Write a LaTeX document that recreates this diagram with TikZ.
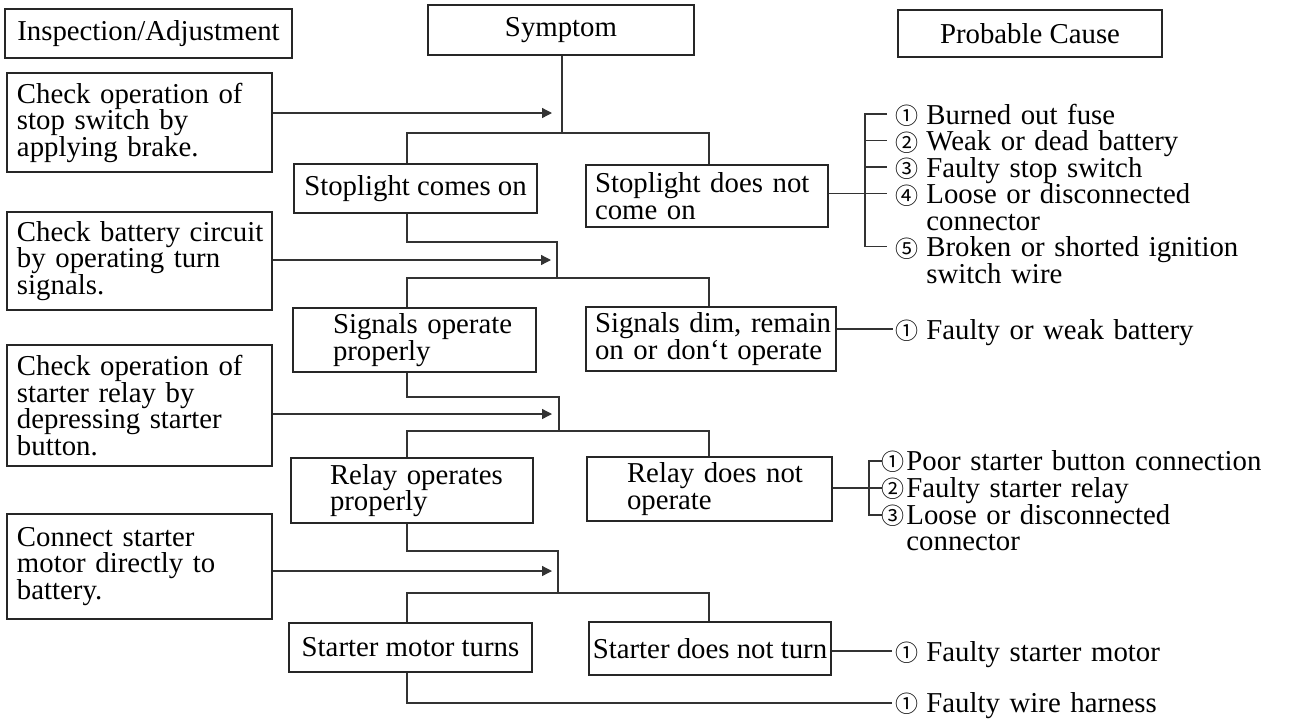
\documentclass[tikz,border=0pt]{standalone}
\usepackage{fontspec}
\setmainfont{Liberation Serif}
\newfontfamily\cnfont{Noto Sans CJK JP}
\usetikzlibrary{arrows.meta}
\newcommand{\mypad}[1]{\hspace*{#1}}
\newcommand{\cn}[2][15.5pt]{\makebox[#1][l]{\raisebox{-0.4pt}{\fontsize{11.5pt}{11.5pt}\cnfont #2}}}
\begin{document}
\begin{tikzpicture}[x=0.5pt,y=-0.5pt,font=\fontsize{14.4pt}{13.25pt}\selectfont]
\tikzset{
  bx/.style={draw=black!85, line width=0.65pt, inner xsep=0pt, inner ysep=0pt, align=left},
  cbx/.style={draw=black!85, line width=0.65pt, inner xsep=0pt, inner ysep=0pt, align=center},
  ln/.style={draw=black!80, line width=0.65pt},
  arr/.style={ln, -{Triangle[length=5pt,width=5pt]}},
  cause/.style={anchor=base west, inner sep=0pt, text width=205pt, align=left},
}
\useasboundingbox (0,0) rectangle (1294,718);

% headers
\node[cbx, minimum width=143.5pt, minimum height=24.5pt] (hIA) at (148.5,33.5) {Inspection/Adjustment};
\node[cbx, minimum width=133pt, minimum height=25pt] (hS) at (561,30) {Symptom};
\node[cbx, minimum width=132pt, minimum height=23.5pt] (hPC) at (1030,33.5) {Probable Cause};

% inspection boxes
\node[bx, text width=132.5pt, minimum height=49.5pt] (ia1) at (139.5,122.5)
  {\mypad{5pt}Check operation of\\\mypad{5pt}stop switch by\\\mypad{5pt}applying brake.};
\node[bx, text width=132.5pt, minimum height=49pt] (ia2) at (139.5,261)
  {\mypad{5pt}Check battery circuit\\\mypad{5pt}by operating turn\\\mypad{5pt}signals.};
\node[bx, text width=132.5pt, minimum height=60.5pt] (ia3) at (139.5,405.5)
  {\mypad{5pt}Check operation of\\\mypad{5pt}starter relay by\\\mypad{5pt}depressing starter\\\mypad{5pt}button.};
\node[bx, text width=132.5pt, minimum height=52.5pt] (ia4) at (139.5,566.5)
  {\mypad{5pt}Connect starter\\\mypad{5pt}motor directly to\\\mypad{5pt}battery.};

% symptom boxes
\node[cbx, minimum width=121.5pt, minimum height=24.5pt] (sc1) at (415.5,188.5) {Stoplight comes on};
\node[bx, text width=121pt, minimum height=31pt] (sd1) at (707,196)
  {\mypad{4.5pt}Stoplight does not\\\mypad{4.5pt}come on};
\node[bx, text width=121.5pt, minimum height=32pt] (sc2) at (414.5,340)
  {\mypad{20pt}Signals operate\\\mypad{20pt}properly};
\node[bx, text width=125pt, minimum height=32pt] (sd2) at (711,339)
  {\mypad{4.5pt}Signals dim, remain\\\mypad{4.5pt}on or don‘t operate};
\node[bx, text width=121pt, minimum height=32.5pt] (sc3) at (412,490.5)
  {\mypad{19.5pt}Relay operates\\\mypad{19.5pt}properly};
\node[bx, text width=122.5pt, minimum height=32pt] (sd3) at (709.5,489)
  {\mypad{20pt}Relay does not\\\mypad{20pt}operate};
\node[cbx, minimum width=121.5pt, minimum height=24.5pt] (sc4) at (410.5,647.5) {Starter motor turns};
\node[cbx, minimum width=121pt, minimum height=26.5pt] (sd4) at (710,648.5) {Starter does not turn};

% junction coordinates
\coordinate (j1) at (562,133);  \coordinate (b1) at (407,133);  \coordinate (b1r) at (709,133);
\coordinate (u2) at (407,242);  \coordinate (j2) at (557,242);
\coordinate (b2) at (407,278);  \coordinate (b2r) at (709,278);
\coordinate (u3) at (407,397);  \coordinate (j3) at (559,397);
\coordinate (b3) at (407,431);  \coordinate (b3r) at (709,431);
\coordinate (u4) at (407,551);  \coordinate (j4) at (558,551);
\coordinate (b4) at (407,593);  \coordinate (b4r) at (709,593);
\coordinate (u5) at (407,703);  \coordinate (e5) at (892,703);

% arrow tips
\coordinate (a1) at (552,113);
\coordinate (a2) at (551,260);
\coordinate (a3) at (552,414);
\coordinate (a4) at (552,571);

% tree
\draw[ln] (hS.south -| j1) -- (j1);
\draw[ln] (sc1.north -| b1) -- (b1) -- (b1r) -- (sd1.north -| b1r);
\draw[ln] (sc1.south -| u2) -- (u2) -- (j2) -- (j2 |- b2);
\draw[ln] (sc2.north -| b2) -- (b2) -- (b2r) -- (sd2.north -| b2r);
\draw[ln] (sc2.south -| u3) -- (u3) -- (j3) -- (j3 |- b3);
\draw[ln] (sc3.north -| b3) -- (b3) -- (b3r) -- (sd3.north -| b3r);
\draw[ln] (sc3.south -| u4) -- (u4) -- (j4) -- (j4 |- b4);
\draw[ln] (sc4.north -| b4) -- (b4) -- (b4r) -- (sd4.north -| b4r);
\draw[ln] (sc4.south -| u5) -- (u5) -- (e5);

% arrows
\draw[arr] (ia1.east |- a1) -- (a1);
\draw[arr] (ia2.east |- a2) -- (a2);
\draw[arr] (ia3.east |- a3) -- (a3);
\draw[arr] (ia4.east |- a4) -- (a4);

% causes group 1
\coordinate (g1) at (865,193.5);
\coordinate (k11) at (887,114);
\coordinate (k12) at (887,140.5);
\coordinate (k13) at (887,167);
\coordinate (k14) at (887,193.5);
\coordinate (k15) at (887,246.5);
\draw[ln] (k11) -- (k11 -| g1) -- (k15 -| g1) -- (k15);
\draw[ln] (k12 -| g1) -- (k12);
\draw[ln] (k13 -| g1) -- (k13);
\draw[ln] (sd1.east |- k14) -- (k14);
\node[cause] (c11) at (895,124) {\cn{①}Burned out fuse};
\node[cause] (c12) at (895,150.5) {\cn{②}Weak or dead battery};
\node[cause] (c13) at (895,177) {\cn{③}Faulty stop switch};
\node[cause] (c14) at (895,203.5) {\cn{④}Loose or disconnected\\\mypad{15.5pt}connector};
\node[cause] (c15) at (895,256.5) {\cn{⑤}Broken or shorted ignition\\\mypad{15.5pt}switch wire};

% group 2
\coordinate (k21) at (893,329);
\draw[ln] (sd2.east |- k21) -- (k21);
\node[cause] (c21) at (895,339) {\cn{①}Faulty or weak battery};

% group 3
\coordinate (g3) at (869,488);
\coordinate (k31) at (882,461);
\coordinate (k32) at (882,488);
\coordinate (k33) at (882,515);
\draw[ln] (k31) -- (k31 -| g3) -- (k33 -| g3) -- (k33);
\draw[ln] (sd3.east |- k32) -- (k32);
\node[cause] (c31) at (881,470) {\cn[12.5pt]{①}Poor starter button connection};
\node[cause] (c32) at (881,497) {\cn[12.5pt]{②}Faulty starter relay};
\node[cause] (c33) at (881,524) {\cn[12.5pt]{③}Loose or disconnected\\\mypad{12.5pt}connector};

% group 4
\coordinate (k41) at (892,651);
\draw[ln] (sd4.east |- k41) -- (k41);
\node[cause] (c41) at (895,661) {\cn{①}Faulty starter motor};
\node[cause] (c51) at (895,712) {\cn{①}Faulty wire harness};
\end{tikzpicture}
\end{document}
